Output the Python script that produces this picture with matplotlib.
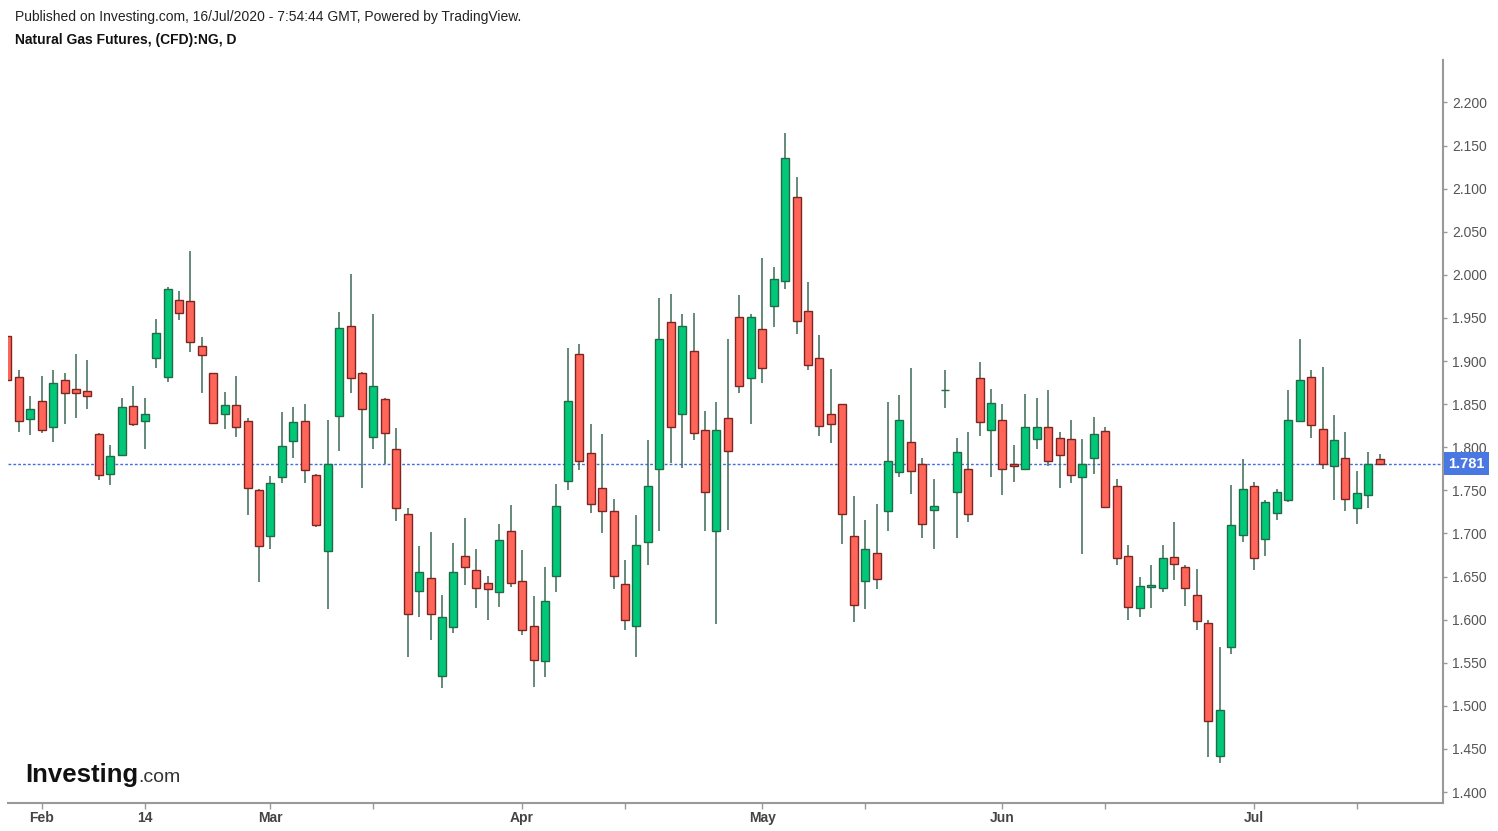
import matplotlib.pyplot as plt
import numpy as np
import pandas as pd

# trading days shown (Good Friday has no candle)
dates = pd.bdate_range('2020-01-29', '2020-07-16')
dates = dates[dates != pd.Timestamp('2020-04-10')]

opens = [1.929, 1.881, 1.833, 1.854, 1.824, 1.878, 1.867, 1.865, 1.815, 1.769,
         1.791, 1.848, 1.830, 1.903, 1.882, 1.971, 1.970, 1.917, 1.886, 1.838,
         1.849, 1.830, 1.750, 1.697, 1.765, 1.807, 1.830, 1.768, 1.680, 1.836,
         1.941, 1.886, 1.812, 1.856, 1.798, 1.723, 1.633, 1.648, 1.535, 1.591,
         1.674, 1.658, 1.642, 1.632, 1.703, 1.645, 1.593, 1.552, 1.651, 1.761,
         1.908, 1.793, 1.753, 1.726, 1.641, 1.593, 1.690, 1.775, 1.945, 1.838,
         1.912, 1.820, 1.703, 1.834, 1.951, 1.880, 1.937, 1.964, 1.993, 2.090,
         1.958, 1.903, 1.839, 1.850, 1.697, 1.645, 1.677, 1.726, 1.771, 1.806,
         1.780, 1.727, 1.866, 1.748, 1.775, 1.880, 1.820, 1.832, 1.781, 1.775,
         1.810, 1.823, 1.811, 1.810, 1.765, 1.788, 1.819, 1.755, 1.674, 1.614,
         1.638, 1.637, 1.673, 1.661, 1.629, 1.596, 1.442, 1.568, 1.698, 1.755,
         1.694, 1.724, 1.739, 1.830, 1.881, 1.821, 1.778, 1.787, 1.730, 1.745,
         1.786]
highs = [1.930, 1.889, 1.859, 1.883, 1.890, 1.886, 1.908, 1.901, 1.816, 1.802,
         1.857, 1.871, 1.857, 1.949, 1.986, 1.981, 2.028, 1.928, 1.886, 1.864,
         1.883, 1.834, 1.752, 1.767, 1.841, 1.847, 1.850, 1.769, 1.832, 1.957,
         2.001, 1.887, 1.954, 1.857, 1.822, 1.729, 1.685, 1.702, 1.629, 1.689,
         1.718, 1.682, 1.651, 1.711, 1.733, 1.681, 1.627, 1.661, 1.757, 1.915,
         1.920, 1.827, 1.815, 1.740, 1.669, 1.721, 1.808, 1.973, 1.978, 1.954,
         1.956, 1.842, 1.853, 1.925, 1.976, 1.955, 2.019, 2.009, 2.164, 2.114,
         1.992, 1.930, 1.891, 1.850, 1.743, 1.716, 1.734, 1.852, 1.860, 1.892,
         1.787, 1.763, 1.889, 1.811, 1.818, 1.899, 1.867, 1.850, 1.803, 1.862,
         1.857, 1.866, 1.818, 1.831, 1.810, 1.835, 1.824, 1.763, 1.687, 1.650,
         1.663, 1.686, 1.713, 1.663, 1.659, 1.600, 1.568, 1.756, 1.786, 1.760,
         1.739, 1.752, 1.866, 1.926, 1.889, 1.893, 1.837, 1.818, 1.772, 1.794,
         1.792]
lows = [1.877, 1.818, 1.814, 1.817, 1.806, 1.827, 1.834, 1.844, 1.762, 1.756,
        1.790, 1.825, 1.798, 1.892, 1.876, 1.947, 1.910, 1.863, 1.827, 1.821,
        1.812, 1.721, 1.644, 1.682, 1.759, 1.788, 1.759, 1.708, 1.612, 1.796,
        1.863, 1.753, 1.798, 1.781, 1.714, 1.557, 1.603, 1.576, 1.521, 1.585,
        1.640, 1.614, 1.600, 1.615, 1.638, 1.582, 1.522, 1.533, 1.632, 1.750,
        1.773, 1.724, 1.701, 1.635, 1.588, 1.557, 1.663, 1.703, 1.782, 1.776,
        1.808, 1.703, 1.595, 1.704, 1.863, 1.827, 1.875, 1.939, 1.983, 1.931,
        1.889, 1.813, 1.805, 1.688, 1.597, 1.612, 1.635, 1.703, 1.765, 1.746,
        1.695, 1.682, 1.846, 1.695, 1.713, 1.813, 1.765, 1.744, 1.760, 1.773,
        1.798, 1.778, 1.753, 1.759, 1.676, 1.769, 1.730, 1.663, 1.600, 1.603,
        1.614, 1.632, 1.646, 1.616, 1.588, 1.441, 1.434, 1.560, 1.690, 1.658,
        1.674, 1.716, 1.736, 1.829, 1.811, 1.775, 1.739, 1.726, 1.711, 1.730,
        1.779]
closes = [1.878, 1.830, 1.844, 1.820, 1.874, 1.863, 1.863, 1.859, 1.768, 1.790,
          1.847, 1.827, 1.839, 1.932, 1.983, 1.956, 1.922, 1.907, 1.828, 1.849,
          1.823, 1.753, 1.685, 1.758, 1.801, 1.829, 1.774, 1.710, 1.780, 1.938,
          1.880, 1.844, 1.871, 1.817, 1.730, 1.606, 1.655, 1.606, 1.603, 1.655,
          1.661, 1.637, 1.635, 1.692, 1.642, 1.588, 1.553, 1.622, 1.732, 1.854,
          1.784, 1.734, 1.726, 1.651, 1.600, 1.687, 1.755, 1.926, 1.823, 1.941,
          1.817, 1.748, 1.820, 1.796, 1.871, 1.951, 1.892, 1.995, 2.136, 1.946,
          1.895, 1.825, 1.827, 1.722, 1.617, 1.682, 1.647, 1.784, 1.832, 1.772,
          1.711, 1.732, 1.866, 1.794, 1.723, 1.829, 1.851, 1.775, 1.778, 1.823,
          1.823, 1.784, 1.791, 1.768, 1.781, 1.815, 1.731, 1.671, 1.615, 1.639,
          1.640, 1.671, 1.665, 1.637, 1.598, 1.482, 1.495, 1.710, 1.752, 1.672,
          1.736, 1.748, 1.832, 1.878, 1.826, 1.781, 1.808, 1.740, 1.747, 1.780,
          1.781]

last_price = 1.781

# x axis ticks: date -> label ('' = tick only)
tick_dates = ['2020-02-03', '2020-02-14', '2020-03-02', '2020-03-13', '2020-04-01',
              '2020-04-15', '2020-05-01', '2020-05-14', '2020-06-01', '2020-06-12',
              '2020-07-01', '2020-07-14']
tick_names = ['Feb', '14', 'Mar', '', 'Apr', '', 'May', '', 'Jun', '', 'Jul', '']

UP = '#00c878'
DOWN = '#ff6559'
UP_EDGE = '#226b48'
DOWN_EDGE = '#7d2621'
WICK = '#3c6a56'

plt.rcParams['font.family'] = ['Liberation Sans', 'DejaVu Sans']

fig = plt.figure(figsize=(14.98, 8.31), dpi=100)
ax = fig.add_axes([8 / 1498, 1 - 802.7 / 831, (1442.7 - 8) / 1498, (802.7 - 60) / 831])

o = np.array(opens)
h = np.array(highs)
l = np.array(lows)
c = np.array(closes)
x = np.arange(len(o))
up = c >= o

ax.vlines(x, l, h, color=WICK, linewidth=1.1, zorder=2)
body_lo = np.minimum(o, c)
body_h = np.abs(c - o)
ax.bar(x[up], body_h[up], bottom=body_lo[up], width=0.7, color=UP,
       edgecolor=UP_EDGE, linewidth=1.0, zorder=3)
ax.bar(x[~up], body_h[~up], bottom=body_lo[~up], width=0.7, color=DOWN,
       edgecolor=DOWN_EDGE, linewidth=1.0, zorder=3)

# last price line and label
ax.axhline(last_price, color='#3f6fe0', linewidth=1.0, linestyle=(0, (2, 1.5)), zorder=1)
ax.annotate(f'{last_price:.3f}', xy=(1, last_price), xycoords=('axes fraction', 'data'),
            xytext=(4, 0), textcoords='offset points', ha='left', va='center',
            color='white', fontsize=10.5, fontweight='bold',
            bbox=dict(boxstyle='square,pad=0.3', fc='#4a78e2', ec='none'),
            annotation_clip=False)

ax.set_xlim(0.05, 125.5)
ax.set_ylim(1.3876, 2.2492)

yt = np.arange(1.40, 2.2001, 0.05)
ax.set_yticks(yt)
ax.set_yticklabels([f'{v:.3f}' for v in yt])
ax.yaxis.tick_right()
ax.tick_params(axis='y', direction='out', length=3, width=1, color='#999999',
               labelcolor='#555555', labelsize=10, pad=4)

pos = [dates.get_loc(pd.Timestamp(d)) for d in tick_dates]
ax.set_xticks(pos)
ax.set_xticklabels(tick_names, fontweight='bold')
ax.tick_params(axis='x', direction='out', length=4, width=1, color='#999999',
               labelcolor='#444444', labelsize=10, pad=2)

for s in ['top', 'left']:
    ax.spines[s].set_visible(False)
for s in ['bottom', 'right']:
    ax.spines[s].set_color('#999999')
    ax.spines[s].set_linewidth(1.5)

fig.text(15 / 1498, 1 - 17 / 831,
         'Published on Investing.com, 16/Jul/2020 - 7:54:44 GMT, Powered by TradingView.',
         fontsize=10, color='#222222', va='center', ha='left')
fig.text(15 / 1498, 1 - 40 / 831, 'Natural Gas Futures, (CFD):NG, D',
         fontsize=10, fontweight='bold', color='#111111', va='center', ha='left')

# logo
t = fig.text(25 / 1498, 1 - 782 / 831, 'Investing', fontsize=18.5, fontweight='bold',
             color='#111111', va='baseline', ha='left')
fig.canvas.draw()
bb = t.get_window_extent()
fig.text(bb.x1 / 1498, 1 - 782 / 831, '.com', fontsize=14, color='#333333',
         va='baseline', ha='left')

fig.savefig('out.png', dpi=100)
